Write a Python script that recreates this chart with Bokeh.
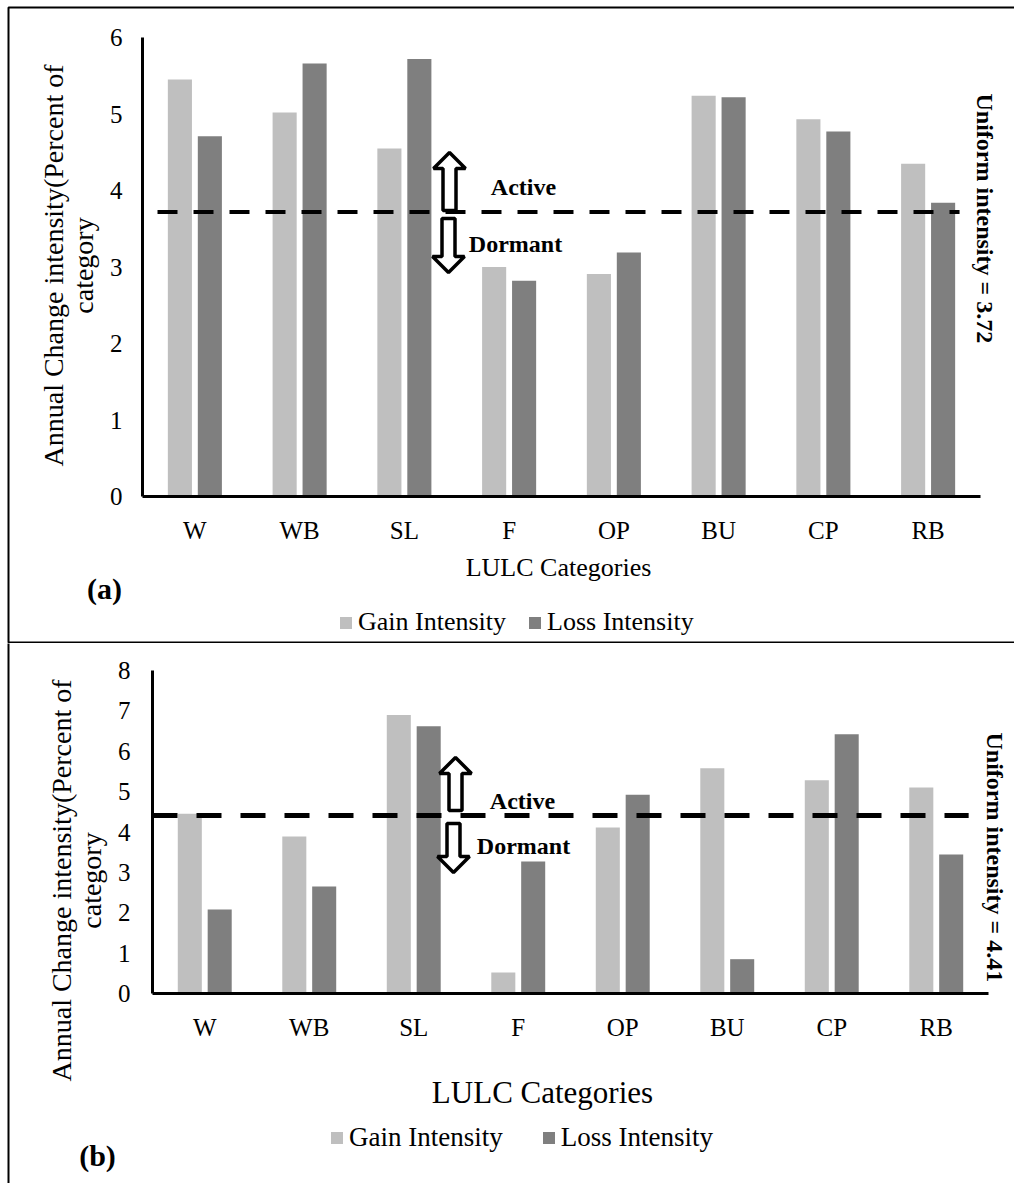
import math
from bokeh.plotting import figure
from bokeh.models import (Range1d, FixedTicker, Label, PolyAnnotation, Legend,
                          LegendItem, ColumnDataSource)
from bokeh.layouts import column
from bokeh.transform import dodge
from bokeh.embed import file_html
from bokeh.resources import INLINE

# ---------------- data ----------------
categories = ["W", "WB", "SL", "F", "OP", "BU", "CP", "RB"]
gain_a = [5.45, 5.02, 4.55, 3.00, 2.91, 5.24, 4.93, 4.35]
loss_a = [4.71, 5.66, 5.72, 2.82, 3.19, 5.22, 4.77, 3.84]
uniform_a = 3.72
yticks_a = [0, 1, 2, 3, 4, 5, 6]

gain_b = [4.45, 3.89, 6.90, 0.52, 4.11, 5.58, 5.28, 5.10]
loss_b = [2.08, 2.65, 6.62, 3.27, 4.92, 0.85, 6.42, 3.44]
uniform_b = 4.41
yticks_b = [0, 1, 2, 3, 4, 5, 6, 7, 8]

series_names = ["Gain Intensity", "Loss Intensity"]
x_title = "LULC Categories"
y_title = ["Annual Change intensity(Percent of", "category"]

FONT = "'Liberation Serif', 'Times New Roman', serif"
GAIN_COLOR = "#BFBFBF"
LOSS_COLOR = "#7F7F7F"
W = 1014
MARGIN = 0


def panel(gain, loss, uniform, yticks, cfg):
    H = cfg["height"]
    top = cfg["page_top"]

    def S(px, py):
        # page pixel -> frame screen coords (frame covers the whole canvas, y up)
        return px - MARGIN, H - (py - top)

    fl, fr = cfg["axis_x"][0] - MARGIN, cfg["axis_x"][1] - MARGIN
    fb, ft = cfg["axis_y"][0] - top, cfg["axis_y"][1] - top
    n = len(categories)
    ymax = yticks[-1]
    ux = (fr - fl) / n
    uy = (fb - ft) / ymax
    p = figure(width=W, height=H,
               x_range=Range1d(-fl / ux, n + (W - fr) / ux),
               y_range=Range1d(-(H - fb) / uy, ymax + ft / uy),
               output_backend="svg", toolbar_location=None,
               min_border=0, min_border_left=0, min_border_right=0,
               min_border_top=0, min_border_bottom=0)
    p.outline_line_color = None
    p.xgrid.grid_line_color = None
    p.ygrid.grid_line_color = None
    p.background_fill_color = "white"
    p.border_fill_color = "white"

    centers = [i + 0.5 for i in range(n)]
    src = ColumnDataSource(dict(x=centers, cat=categories, gain=gain, loss=loss))
    rg = p.vbar(x=dodge("x", -0.143), top="gain", width=0.23,
                source=src, fill_color=GAIN_COLOR, line_color=None)
    rl = p.vbar(x=dodge("x", 0.143), top="loss", width=0.23,
                source=src, fill_color=LOSS_COLOR, line_color=None)

    # uniform intensity line
    p.segment(x0=0, y0=uniform, x1=n - cfg["line_end_pad"], y1=uniform,
              line_color="black", line_width=cfg["dash_w"], line_dash=cfg["dash"],
              line_dash_offset=cfg["dash_off"])

    xa, ya = p.xaxis[0], p.yaxis[0]
    for ax in (xa, ya):
        ax.axis_line_color = "black"
        ax.axis_line_width = 3
        ax.major_tick_line_color = None
        ax.minor_tick_line_color = None
        ax.major_label_text_font = FONT
        ax.major_label_text_font_size = "25px"
        ax.major_label_text_color = "black"
        ax.fixed_location = 0
    ya.ticker = FixedTicker(ticks=yticks)
    ya.bounds = (0, ymax)
    ya.major_label_standoff = cfg["ystandoff"]
    xa.ticker = FixedTicker(ticks=centers)
    xa.major_label_overrides = {c: lab for c, lab in zip(centers, categories)}
    xa.bounds = (0, n)
    xa.major_label_standoff = cfg["xstandoff"]

    def lab(pos, text, size, bold=False, angle=0.0, align="center"):
        sx, sy = S(*pos)
        p.add_layout(Label(x=sx, y=sy, x_units="screen", y_units="screen", text=text,
                           text_font=FONT, text_font_size=size, text_color="black",
                           text_font_style="bold" if bold else "normal",
                           text_align=align, text_baseline="middle", angle=angle))

    def arrow(xc, y_tail, y_tip, head_w=32, head_h=16, shaft_w=13):
        s = 1 if y_tip < y_tail else -1   # page coords: up means smaller y
        yb = y_tip + s * head_h
        pts = [(xc - shaft_w / 2, y_tail), (xc - shaft_w / 2, yb), (xc - head_w / 2, yb),
               (xc, y_tip), (xc + head_w / 2, yb), (xc + shaft_w / 2, yb),
               (xc + shaft_w / 2, y_tail)]
        sp = [S(a, b) for a, b in pts]
        p.add_layout(PolyAnnotation(xs=[q[0] for q in sp], ys=[q[1] for q in sp],
                                    xs_units="screen", ys_units="screen",
                                    fill_color="white", fill_alpha=1.0,
                                    line_color="black", line_alpha=1.0, line_width=3.5))

    # legend
    lx, lcy = cfg["legend"]
    sx, sy = S(lx, lcy + 15)
    legend = Legend(items=[LegendItem(label=series_names[0], renderers=[rg]),
                           LegendItem(label=series_names[1], renderers=[rl])],
                    orientation="horizontal", location=(sx, sy),
                    padding=0, margin=0, spacing=cfg["legend_spacing"],
                    glyph_width=15, glyph_height=15, label_standoff=5,
                    label_height=15, label_text_baseline="middle",
                    label_text_font=FONT, label_text_font_size=cfg["legend_size"],
                    label_text_color="black", border_line_color=None,
                    background_fill_alpha=0)
    p.add_layout(legend)

    lab(cfg["xtitle"], x_title, cfg["xtitle_size"])
    l1x, l2x, ly = cfg["ytitle"]
    lab((l1x, ly), y_title[0], cfg["ytitle_size"], angle=math.pi / 2)
    lab((l2x, ly), y_title[1], cfg["ytitle_size"], angle=math.pi / 2)
    lab(cfg["tag_pos"], cfg["tag"], "30px", bold=True)
    lab(cfg["uniform_pos"], "Uniform intensity = %.2f" % uniform, "24px", bold=True,
        angle=-math.pi / 2, align="left")
    lab(cfg["active"], "Active", "24px", bold=True)
    lab(cfg["dormant"], "Dormant", "24px", bold=True)
    for a in cfg["arrows"]:
        arrow(*a)

    # panel border (left / top / bottom edges)
    bx, by = zip(*[S(*q) for q in cfg["border"]])
    p.add_layout(PolyAnnotation(xs=list(bx), ys=list(by), xs_units="screen",
                                ys_units="screen", fill_alpha=0, line_color="black",
                                line_alpha=1.0, line_width=2))
    return p


cfg_a = dict(
    height=643, page_top=0,
    axis_x=(142, 980), axis_y=(496, 37),
    ystandoff=14, xstandoff=14,
    dash_w=4, dash="20 16", dash_off=21, line_end_pad=0.2,
    legend=(338, 622), legend_spacing=21, legend_size="26px",
    xtitle=(558, 567), xtitle_size="26px",
    ytitle=(53, 83, 265), ytitle_size="28px",
    tag="(a)", tag_pos=(104, 588),
    uniform_pos=(984, 93),
    active=(523, 186), dormant=(515, 243),
    arrows=((449, 210, 152), (448, 218, 272)),
    border=[(8, 7), (1300, 7), (1300, 642), (8, 642)],
)

cfg_b = dict(
    height=540, page_top=643,
    axis_x=(152, 988), axis_y=(993, 670),
    ystandoff=16, xstandoff=14,
    dash_w=5, dash="25 19", dash_off=0, line_end_pad=0.19,
    legend=(329, 1138), legend_spacing=38, legend_size="27px",
    xtitle=(542, 1092), xtitle_size="31px",
    ytitle=(61, 91, 880), ytitle_size="28px",
    tag="(b)", tag_pos=(97, 1155),
    uniform_pos=(994, 732),
    active=(522, 800), dormant=(523, 845),
    arrows=((455, 810, 757), (453, 823, 872)),
    border=[(8, 600), (1300, 600), (1300, 1400), (8, 1400)],
)

p1 = panel(gain_a, loss_a, uniform_a, yticks_a, cfg_a)
p2 = panel(gain_b, loss_b, uniform_b, yticks_b, cfg_b)
layout = column(p1, p2, spacing=0)

open("out.html", "w").write(file_html(layout, INLINE))
